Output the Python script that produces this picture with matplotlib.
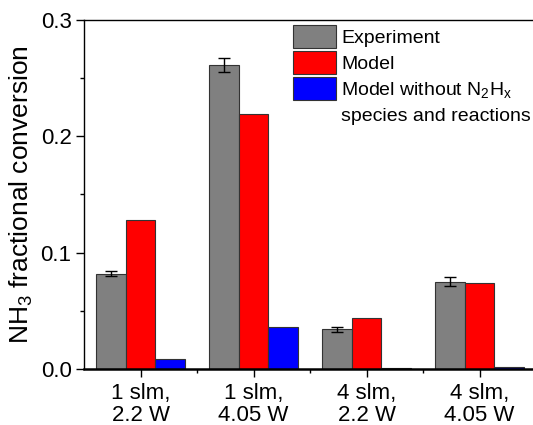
import matplotlib
matplotlib.use("Agg")
import matplotlib.pyplot as plt
import numpy as np
from matplotlib.ticker import MultipleLocator, FixedLocator
from matplotlib.patches import Rectangle

plt.rcParams['font.family'] = ['Liberation Sans', 'DejaVu Sans']
plt.rcParams['mathtext.fontset'] = 'custom'
plt.rcParams['mathtext.rm'] = 'Liberation Sans'
plt.rcParams['mathtext.it'] = 'Liberation Sans'

categories = ["1 slm,\n2.2 W", "1 slm,\n4.05 W", "4 slm,\n2.2 W", "4 slm,\n4.05 W"]
experiment = [0.082, 0.261, 0.034, 0.075]
experiment_err = [0.002, 0.006, 0.0025, 0.004]
model = [0.128, 0.219, 0.044, 0.074]
model_no_n2hx = [0.009, 0.036, 0.001, 0.002]

fig = plt.figure(figsize=(5.33, 4.25), dpi=100)
ax = fig.add_axes([84/533, 56/425, 452/533, 349/425])

x = np.arange(1, len(categories) + 1)
w = 0.265
b1 = ax.bar(x - w, experiment, w, color='#808080', edgecolor='#333333', linewidth=0.8,
            yerr=experiment_err, capsize=4, error_kw=dict(elinewidth=1, capthick=1, ecolor='black'),
            label='Experiment')
b2 = ax.bar(x, model, w, color='#ff0000', edgecolor='#333333', linewidth=0.8, label='Model')
b3 = ax.bar(x + w, model_no_n2hx, w, color='#0000ff', edgecolor='#333333', linewidth=0.8,
            label='Model without N$_2$H$_x$')

ax.set_xlim(0.5, 4.5)
ax.set_ylim(0, 0.3)
ax.set_xticks(x)
ax.set_xticklabels(categories, fontsize=16, linespacing=1.05)
ax.xaxis.set_minor_locator(FixedLocator([1.5, 2.5, 3.5]))
ax.yaxis.set_major_locator(MultipleLocator(0.1))
ax.yaxis.set_minor_locator(MultipleLocator(0.05))
ax.yaxis.set_major_formatter(matplotlib.ticker.FormatStrFormatter('%.1f'))
ax.tick_params(axis='y', labelsize=16, direction='out', length=6, width=1, pad=3)
ax.tick_params(axis='x', direction='out', length=6, width=1, pad=4)
ax.tick_params(which='minor', direction='out', length=3, width=1)
ax.set_ylabel('NH$_3$ fractional conversion', fontsize=19, labelpad=4)

ax.spines['bottom'].set_linewidth(1.8)
ax.spines['left'].set_linewidth(1)
ax.spines['top'].set_linewidth(1)

blank = Rectangle((0, 0), 1, 1, fill=False, edgecolor='none', linewidth=0)
handles = [b1, b2, b3, blank]
labels = ['Experiment', 'Model', 'Model without N$_2$H$_x$', 'species and reactions']
ax.legend(handles, labels, loc='upper left', bbox_to_anchor=(0.462, 0.985), frameon=False,
          fontsize=14, handlelength=2.2, handleheight=1.45, handletextpad=0.3,
          labelspacing=0.15, borderaxespad=0, borderpad=0)

fig.savefig('out.png', dpi=100)
